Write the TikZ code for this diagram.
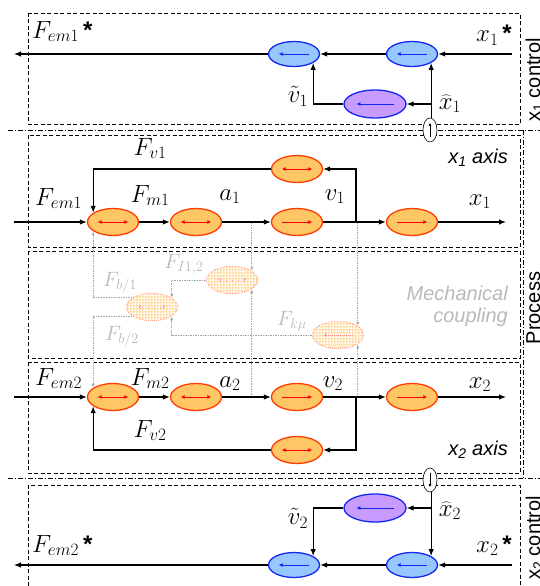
\documentclass[tikz,border=0pt]{standalone}
\usepackage{fontspec}
\setsansfont{Liberation Sans}
\usetikzlibrary{shapes.geometric,arrows.meta,patterns,calc}
\definecolor{procfill}{RGB}{255,198,102}
\definecolor{procline}{RGB}{255,60,0}
\definecolor{ctrlfill}{RGB}{150,200,255}
\definecolor{ctrlline}{RGB}{20,40,240}
\definecolor{obsfill}{RGB}{200,155,255}
\begin{document}
\begin{tikzpicture}[x=1pt, y=-1pt, >={Latex[length=7pt,width=5.5pt]},
	box/.style={dash pattern=on 4pt off 2.5pt, line width=0.8pt}, frame/.style={dash pattern=on 5pt off 2pt on 1pt off 2pt, line width=0.8pt},
	sig/.style={->, line width=1.1pt}, cline/.style={->, gray!70, dash pattern=on 1.5pt off 1pt, line width=0.7pt, >={Latex[length=4pt,width=3pt]}},
	inarr/.style 2 args={path picture={\draw[#1, line width=0.8pt, >={Latex[length=4pt,width=4pt]}, #2] ($(path picture bounding box.west)!0.2!(path picture bounding box.east)$) -- ($(path picture bounding box.west)!0.8!(path picture bounding box.east)$);}},
	ell/.style={ellipse, inner sep=0, minimum width=51pt, minimum height=27pt, line width=1.3pt},
	proc/.style={ell, draw=procline, fill=procfill}, ctrl/.style={ell, draw=ctrlline, fill=ctrlfill, minimum height=25pt, inarr={ctrlline}{<-}},
	obs/.style={ell, draw=ctrlline, fill=obsfill, minimum width=62pt, minimum height=28pt, inarr={ctrlline}{<-}},
	coup/.style={ell, draw=procline!45, dash pattern=on 1pt off 1pt, fill=procfill!50, postaction={pattern=grid, pattern color=white}},
	sens/.style={ellipse, draw, fill=white, line width=0.6pt, minimum width=14pt, minimum height=24pt, inner sep=0, path picture={\draw[line width=0.6pt, >={Latex[length=3pt,width=3pt]}, #1] ($(path picture bounding box.south)!0.2!(path picture bounding box.north)$) -- ($(path picture bounding box.south)!0.8!(path picture bounding box.north)$);}},
	lab/.style={inner sep=0, font=\fontsize{24}{26}\selectfont}, glab/.style={inner sep=0, gray!55, font=\fontsize{21}{23}\selectfont},
	side/.style={inner sep=0, font=\sffamily\fontsize{20}{22}\selectfont}, axl/.style={inner sep=0, font=\sffamily\itshape\fontsize{20}{22}\selectfont}]

	\useasboundingbox (0,0) rectangle (540,586);

	\draw[box] (28,13) rectangle (520,124);
	\draw[box] (28,135) rectangle (520,247);
	\draw[box] (28,251) rectangle (520,358);
	\draw[box] (28,362) rectangle (520,473);
	\draw[box] (28,586) -- (28,485) -- (520,485) -- (520,586);
	\draw[frame] (8,130) -- (540,130);
	\draw[frame] (8,478) -- (540,478);
	\draw[frame] (523,130) -- (523,478);

	\node[ctrl] (b1) at (294,54) {};
	\node[ctrl] (b2) at (412,54) {};
	\node[obs] (p1) at (375,104) {};
	\node[sens=->] (s1) at (430,130) {};
	\coordinate (r1) at (512,54);
	\coordinate (u1) at (14,54);
	\draw[sig] (r1) -- (b2);
	\draw[sig] (b2) -- (b1);
	\draw[sig] (b1) -- (u1);
	\draw[sig] (b2.-25 |- s1.north) -- (b2.-25);
	\draw[sig] (b2.-25 |- p1) -- (p1);
	\draw[sig] (p1) -| (b1.-25);
	\node[lab, anchor=base west] (lu1) at (32,38) {$F_{em1}$\,{\sffamily\bfseries *}};
	\node[lab, anchor=base east] (lr1) at (512,42) {$x_1$\,{\sffamily\bfseries *}};
	\node[lab] (lv1) at (298,96) {$\tilde{v}_1$};
	\node[lab] (lx1) at (450,104) {$\widehat{x}_1$};

	\node[coup, inarr={red!45, dash pattern=on 1pt off 1pt}{<->}] (c1) at (152,307) {};
	\node[coup, inarr={red!45, dash pattern=on 1pt off 1pt}{<->}] (c2) at (232,280) {};
	\node[coup, inarr={red!45, dash pattern=on 1pt off 1pt}{<-}] (c3) at (338,335) {};

	\node[proc, inarr={red}{<->}] (n11) at (113,222) {};
	\node[proc, inarr={red}{<->}] (n12) at (196,222) {};
	\node[proc, inarr={red}{->}] (n13) at (297,222) {};
	\node[proc, inarr={red}{->}] (n14) at (412,222) {};
	\node[proc, inarr={red}{<->}] (f1) at (297,169) {};
	\node[proc, inarr={red}{<->}] (n21) at (113,397) {};
	\node[proc, inarr={red}{<->}] (n22) at (196,397) {};
	\node[proc, inarr={red}{->}] (n23) at (297,397) {};
	\node[proc, inarr={red}{->}] (n24) at (412,397) {};
	\node[proc, inarr={red}{<->}] (f2) at (297,450) {};

	\draw[cline] (c2.25 |- n12) -- (c2.25);
	\draw[cline] (c2.-25 |- n22) -- (c2.-25);
	\draw[cline] (c3.25 |- n13) -- (c3.25);
	\draw[cline] (c3.-25 |- n23) -- (c3.-25);
	\draw[cline] (c1.155) -| (n11.-155);
	\draw[cline] (c1.-155) -| (n21.155);
	\draw[cline] (c2.west) -| (c1.25);
	\draw[cline] (c3.west) -| (c1.-25);

	\coordinate (i1) at (14,222);
	\coordinate (o1) at (506,222);
	\coordinate (k1) at (356,222);
	\draw[sig] (i1) -- (n11);
	\draw[sig] (n11) -- (n12);
	\draw[sig] (n12) -- (n13);
	\draw[sig] (n13) -- (n14);
	\draw[sig] (n14) -- (o1);
	\draw[sig] (k1) |- (f1);
	\draw[sig] (f1) -| (n11.155);
	\coordinate (i2) at (14,397);
	\coordinate (o2) at (506,397);
	\coordinate (k2) at (356,397);
	\draw[sig] (i2) -- (n21);
	\draw[sig] (n21) -- (n22);
	\draw[sig] (n22) -- (n23);
	\draw[sig] (n23) -- (n24);
	\draw[sig] (n24) -- (o2);
	\draw[sig] (k2) |- (f2);
	\draw[sig] (f2) -| (n21.-155);

	\node[lab, anchor=base west] (le1) at (35,205) {$F_{em1}$};
	\node[lab, anchor=base] (lm1) at (150,202) {$F_{m1}$};
	\node[lab, anchor=base] (la1) at (230,200) {$a_1$};
	\node[lab, anchor=base] (lv11) at (335,200) {$v_1$};
	\node[lab, anchor=base] (lx11) at (480,205) {$x_1$};
	\node[lab, anchor=base] (lf1) at (150,155) {$F_{v1}$};
	\node[axl, anchor=base east] (ax1) at (508,163) {x\textsubscript{1} axis};
	\node[lab, anchor=base west] (le2) at (35,385) {$F_{em2}$};
	\node[lab, anchor=base] (lm2) at (150,385) {$F_{m2}$};
	\node[lab, anchor=base] (la2) at (230,387) {$a_2$};
	\node[lab, anchor=base] (lv2) at (333,387) {$v_2$};
	\node[lab, anchor=base] (lx2) at (480,388) {$x_2$};
	\node[lab, anchor=base] (lf2) at (150,437) {$F_{v2}$};
	\node[axl, anchor=base east] (ax2) at (508,455) {x\textsubscript{2} axis};

	\node[glab, anchor=base] (lb1) at (120,286) {$F_{b/1}$};
	\node[glab, anchor=base] (lb2) at (122,340) {$F_{b/2}$};
	\node[glab, anchor=base] (li12) at (184,268) {$F_{I1,2}$};
	\node[glab, anchor=base] (lk) at (292,325) {$F_{k\mu}$};
	\node[axl, gray!55, align=right, anchor=east] (mc) at (508,306) {Mechanical\\coupling};

	\node[ctrl] (b3) at (294,565) {};
	\node[ctrl] (b4) at (412,565) {};
	\node[obs] (p2) at (375,508) {};
	\node[sens=<-] (s2) at (430,480) {};
	\coordinate (r2) at (512,565);
	\coordinate (u2) at (14,565);
	\draw[sig] (r2) -- (b4);
	\draw[sig] (b4) -- (b3);
	\draw[sig] (b3) -- (u2);
	\draw[sig] (b4.25 |- s2.south) -- (b4.25);
	\draw[sig] (b4.25 |- p2) -- (p2);
	\draw[sig] (p2) -| (b3.25);
	\node[lab, anchor=base west] (lu2) at (32,552) {$F_{em2}$\,{\sffamily\bfseries *}};
	\node[lab, anchor=base east] (lr2) at (512,552) {$x_2$\,{\sffamily\bfseries *}};
	\node[lab] (lv3) at (298,518) {$\tilde{v}_2$};
	\node[lab] (lx3) at (450,511) {$\widehat{x}_2$};

	\node[side, rotate=90, anchor=base] (t1) at (540,80) {x\textsubscript{1} control};
	\node[side, rotate=90, anchor=base] (t2) at (540,308) {Process};
	\node[side, rotate=90, anchor=base] (t3) at (540,538) {x\textsubscript{2} control};
\end{tikzpicture}
\end{document}
